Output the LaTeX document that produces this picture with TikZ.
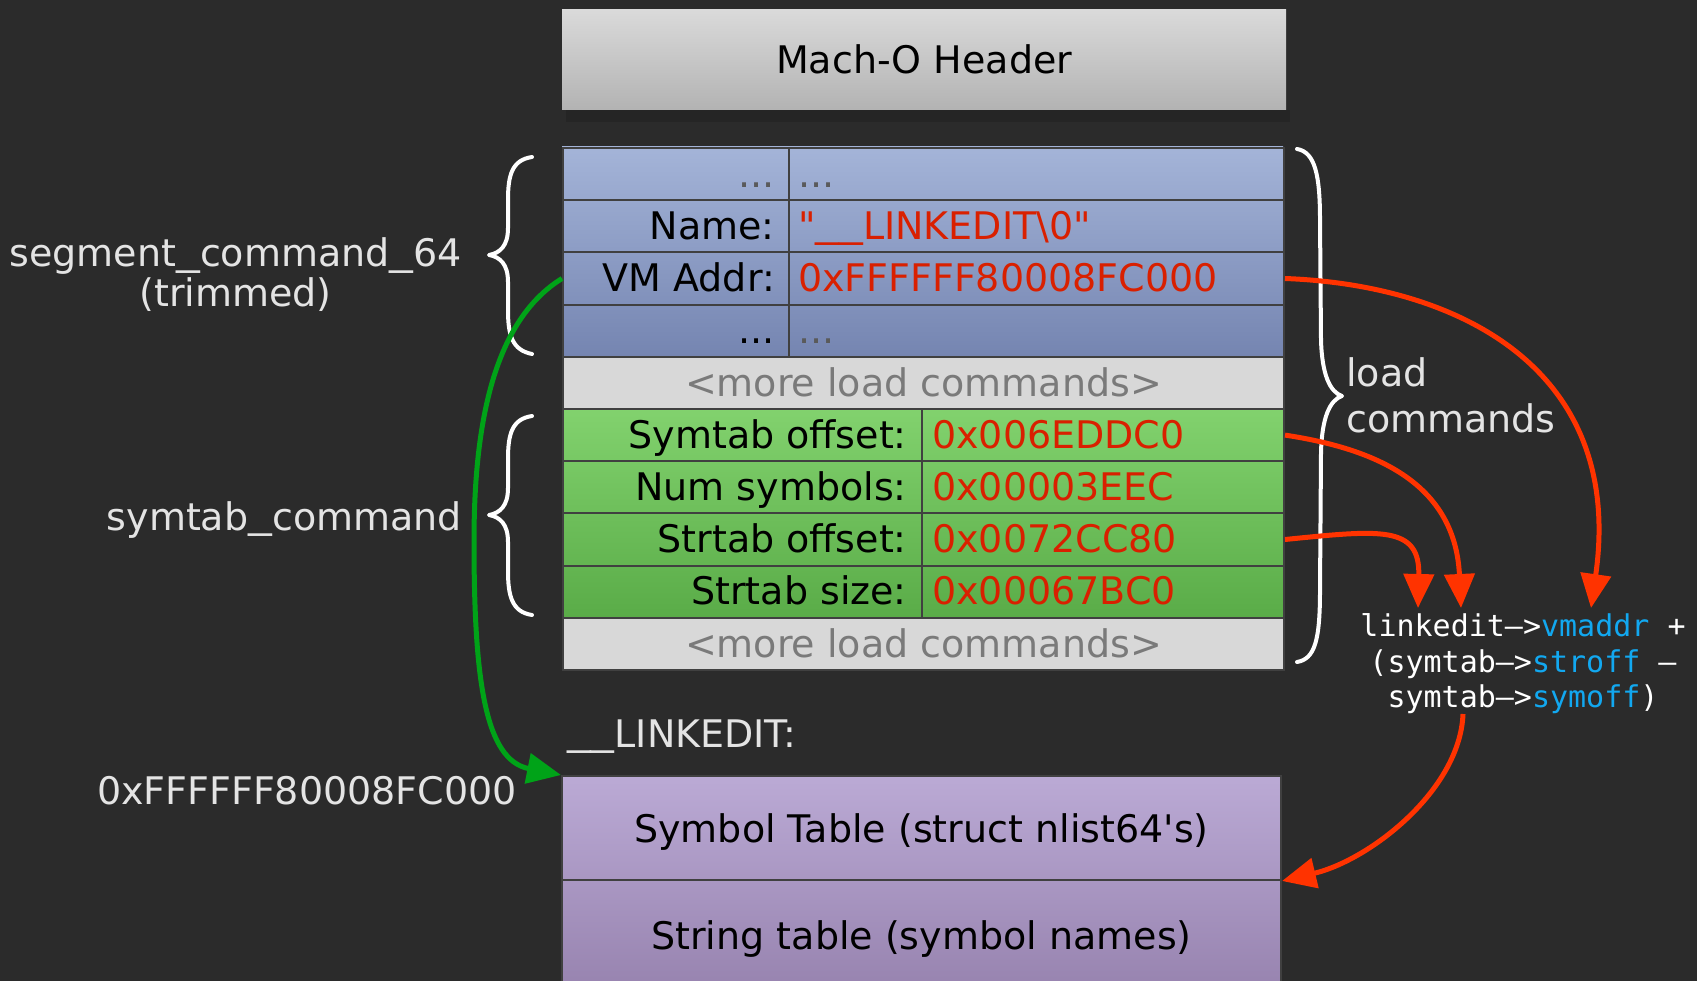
\documentclass[tikz,border=0pt]{standalone}
\usepackage{fontspec}
\setmainfont{DejaVu Sans}
\newfontfamily\monof{DejaVu Sans Mono}
\usetikzlibrary{arrows.meta}
\newcommand\wus{\raisebox{2.5pt}{\scalebox{1.25}[1]{\_}}}
\definecolor{bgc}{HTML}{2B2B2B}
\definecolor{hdrT}{HTML}{DADADA}
\definecolor{hdrB}{HTML}{B3B3B3}
\definecolor{bluT}{HTML}{A4B4D8}
\definecolor{bluB}{HTML}{7585B1}
\definecolor{grnT}{HTML}{82D26E}
\definecolor{grnB}{HTML}{5AAC48}
\definecolor{greyrow}{HTML}{D8D8D8}
\definecolor{greytxt}{HTML}{7A7A7A}
\definecolor{purT}{HTML}{BBAAD5}
\definecolor{purB}{HTML}{9783AF}
\definecolor{gridc}{HTML}{404040}
\definecolor{valred}{HTML}{D92000}
\definecolor{dotc}{HTML}{5A5A5A}
\definecolor{lt}{HTML}{E4E4E4}
\definecolor{arrred}{HTML}{FF3300}
\definecolor{arrgrn}{HTML}{00A318}
\definecolor{fblue}{HTML}{12A8F0}
\begin{document}
\begin{tikzpicture}[x=1pt,y=-1pt,
  big/.style={font=\fontsize{38}{46}\selectfont},
  lbl/.style={big, inner sep=0pt, text height=28pt, text depth=0pt},
  val/.style={lbl, text=valred},
  dots/.style={lbl, text=dotc},
  rowbox/.style={draw=gridc, line width=2pt, minimum width=721pt, minimum height=52.2pt, anchor=north west, inner sep=0pt},
  more/.style={rowbox, fill=greyrow, text=greytxt, big, text height=28pt, text depth=0pt},
  side/.style={big, text=lt, inner sep=0pt},
  brace/.style={draw=white, line width=4pt, line cap=round, line join=round},
  redarrow/.style={draw=arrred, line width=5pt, -{Triangle[length=34pt,width=30pt]}},
  grnarrow/.style={draw=arrgrn, line width=5pt, -{Triangle[length=34pt,width=30pt]}},
  purbox/.style={draw=gridc, line width=2pt, minimum width=719pt, anchor=north west, big, inner sep=0pt, text height=28pt, text depth=0pt},
]
\clip (0,0) rectangle (1697,981);
\fill[bgc] (0,0) rectangle (1697,981);

% header (with soft shadow)
\fill[black, opacity=0.12] (566,110) rectangle (1290,122);
\node[anchor=north west, minimum width=724pt, minimum height=100pt, top color=hdrT, bottom color=hdrB, lbl] (header) at (562,9) {Mach-O Header};

% segment command block
\shade[top color=bluT, bottom color=bluB] (562,147) rectangle (1283,355.8);
\node[rowbox] (r1) at (562,147) {};
\node[rowbox] (r2) at (562,199.2) {};
\node[rowbox] (r3) at (562,251.4) {};
\node[rowbox] (r4) at (562,303.6) {};
\draw[gridc, line width=2pt] (789,147) -- (789,355.8);
\node[dots, anchor=east] (l1) at (775,173.1) {...};
\node[dots, anchor=west] (v1) at (798,173.1) {...};
\node[lbl, anchor=east] (l2) at (775,225.3) {Name:};
\node[val, anchor=west] (v2) at (798,225.3) {\textquotedbl\wus\wus LINKEDIT\textbackslash 0\textquotedbl};
\node[lbl, anchor=east] (l3) at (775,277.5) {VM Addr:};
\node[val, anchor=west] (v3) at (798,277.5) {0xFFFFFF80008FC000};
\node[lbl, anchor=east] (l4) at (775,329.7) {...};
\node[dots, anchor=west] (v4) at (798,329.7) {...};

\node[more] (m1) at (562,355.8) {<more load commands>};

% symtab block
\shade[top color=grnT, bottom color=grnB] (562,408) rectangle (1283,616.8);
\node[rowbox] (r6) at (562,408) {};
\node[rowbox] (r7) at (562,460.2) {};
\node[rowbox] (r8) at (562,512.4) {};
\node[rowbox] (r9) at (562,564.6) {};
\draw[gridc, line width=2pt] (922,408) -- (922,616.8);
\node[lbl, anchor=east] (l6) at (907,434.1) {Symtab offset:};
\node[val, anchor=west] (v6) at (932,434.1) {0x006EDDC0};
\node[lbl, anchor=east] (l7) at (907,486.3) {Num symbols:};
\node[val, anchor=west] (v7) at (932,486.3) {0x00003EEC};
\node[lbl, anchor=east] (l8) at (907,538.5) {Strtab offset:};
\node[val, anchor=west] (v8) at (932,538.5) {0x0072CC80};
\node[lbl, anchor=east] (l9) at (907,590.7) {Strtab size:};
\node[val, anchor=west] (v9) at (932,590.7) {0x00067BC0};

\node[more] (m2) at (562,616.8) {<more load commands>};

% linkedit region
\shade[top color=purT, bottom color=purB] (561,775) rectangle (1280,990);
\node[purbox, minimum height=104pt] (sym) at (561,775) {Symbol Table (struct nlist64\textquotesingle s)};
\node[purbox, minimum height=110pt] (str) at (561,879) {String table (symbol names)};

% side labels
\node[side, anchor=east, align=center, font=\fontsize{38}{40}\selectfont] (seglbl) at (462,275) {segment\wus command\wus 64\\(trimmed)};
\node[side, anchor=east, text height=28pt, text depth=0pt] (symlbl) at (462,516) {symtab\wus command};
\node[side, anchor=west, align=left] (lclbl) at (1346,395) {load\\commands};
\node[side, anchor=west, text height=28pt, text depth=0pt] (lelbl) at (567,733) {\wus\wus LINKEDIT:};
\node[side, anchor=east, text height=28pt, text depth=0pt] (addrlbl) at (517,790) {0xFFFFFF80008FC000};

% formula
\node[text=white, font=\monof\fontsize{30}{35.5}\selectfont, align=center, inner sep=0pt] (formula) at (1523,664)
  {linkedit–>\textcolor{fblue}{vmaddr} +\\(symtab–>\textcolor{fblue}{stroff} –\\symtab–>\textcolor{fblue}{symoff})};

% braces
\draw[brace] (532,157) .. controls (512,160) and (508,175) .. (508,200) -- (508,228)
  .. controls (508,246) and (500,253) .. (489,255)
  .. controls (500,257) and (508,264) .. (508,282) -- (508,310)
  .. controls (508,335) and (512,350) .. (532,354);
\draw[brace] (532,416) .. controls (512,419) and (508,434) .. (508,459) -- (508,488)
  .. controls (508,506) and (500,513) .. (489,515)
  .. controls (500,517) and (508,524) .. (508,542) -- (508,571)
  .. controls (508,596) and (512,612) .. (532,615);
\draw[brace] (1297,149) .. controls (1315,152) and (1320,175) .. (1320,220) -- (1321,340)
  .. controls (1322,375) and (1330,392) .. (1342,396)
  .. controls (1330,400) and (1322,417) .. (1321,452) -- (1320,590)
  .. controls (1320,640) and (1315,659) .. (1297,662);

% arrow end points
\coordinate (tipA) at (1418,608);
\coordinate (tipB) at (1461,608);
\coordinate (tipC) at (1591,608);
\coordinate (fstart) at (1463,714);

% arrows
\draw[redarrow] (r3.east) .. controls (1460,285) and (1625,370) .. (tipC);
\draw[redarrow] (r6.east) .. controls (1370,448) and (1455,480) .. (tipB);
\draw[redarrow] (r8.east) .. controls (1380,530) and (1420,525) .. (tipA);
\draw[redarrow] (fstart) .. controls (1460,790) and (1370,860) .. (sym.south east);
\draw[grnarrow] (r3.west) .. controls (495,320) and (474,420) .. (474,541)
  .. controls (474,680) and (485,760) .. (sym.north west);
\end{tikzpicture}
\end{document}
